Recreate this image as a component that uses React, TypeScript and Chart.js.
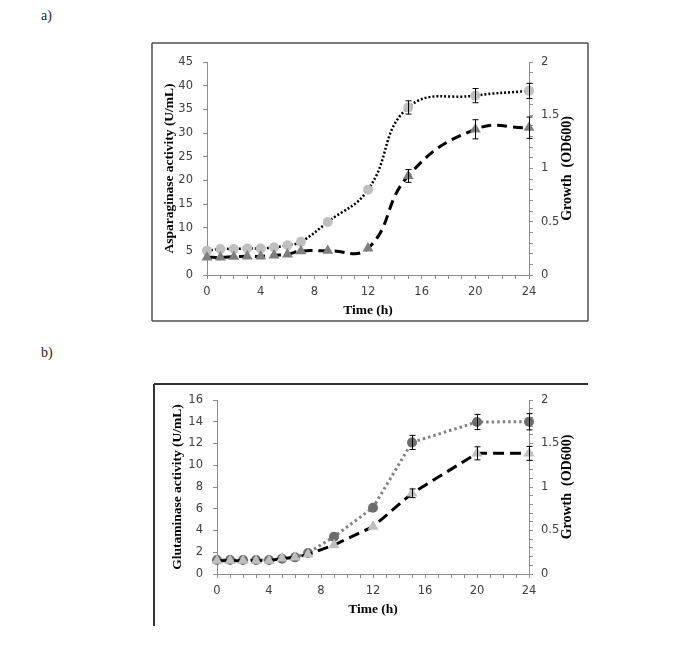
import React, { useEffect, useRef } from 'react';
import { Chart, registerables } from 'chart.js';

Chart.register(...registerables);

// ---------- data ----------
const hours = [0, 1, 2, 3, 4, 5, 6, 7, 9, 12, 15, 20, 24];

// panel a
const asparaginase = [5.1, 5.5, 5.5, 5.6, 5.6, 5.85, 6.3, 7.0, 11.2, 18.0, 35.4, 37.9, 38.9];
const asparaginaseErr = [0, 0, 0, 0, 0, 0, 0, 0, 0, 0, 1.4, 1.5, 1.6];
const growthA = [0.166, 0.166, 0.172, 0.175, 0.175, 0.185, 0.194, 0.225, 0.228, 0.25, 0.93, 1.368, 1.383];
const growthAErr = [0, 0, 0, 0, 0, 0, 0, 0, 0, 0, 0.06, 0.09, 0.1];

// panel b
const glutaminase = [1.29, 1.29, 1.29, 1.29, 1.29, 1.41, 1.53, 1.93, 3.43, 6.1, 12.1, 13.98, 14.0];
const glutaminaseErr = [0, 0, 0, 0, 0, 0, 0, 0, 0, 0, 0.65, 0.7, 0.75];
const growthB = [0.153, 0.153, 0.153, 0.153, 0.153, 0.18, 0.19, 0.226, 0.333, 0.544, 0.928, 1.387, 1.387];
const growthBErr = [0, 0, 0, 0, 0, 0, 0, 0, 0, 0, 0.05, 0.075, 0.08];

const xLabelEvery = 4;
const rightLabelEvery = 0.5;

// ---------- plugins ----------
const errorBarPlugin = {
  id: 'errorBars',
  afterDatasetsDraw(chart: any) {
    const ctx = chart.ctx;
    chart.data.datasets.forEach((ds: any, i: number) => {
      const errs = ds.errors;
      if (!errs) return;
      const meta = chart.getDatasetMeta(i);
      const ys = chart.scales[ds.yAxisID];
      ctx.save();
      ctx.strokeStyle = '#000';
      ctx.lineWidth = 1;
      meta.data.forEach((pt: any, j: number) => {
        const e = errs[j];
        if (!e) return;
        const v = ds.data[j].y;
        const t = ys.getPixelForValue(v + e);
        const b = ys.getPixelForValue(v - e);
        const x = Math.round(pt.x) + 0.5;
        ctx.beginPath();
        ctx.moveTo(x, t);
        ctx.lineTo(x, b);
        ctx.moveTo(x - 3, t);
        ctx.lineTo(x + 3, t);
        ctx.moveTo(x - 3, b);
        ctx.lineTo(x + 3, b);
        ctx.stroke();
      });
      ctx.restore();
    });
  },
};

function makeFrame(spec: { x: number; y: number; w: number; h: number; sides: string[]; color: string; width: number }) {
  return {
    id: 'frame',
    beforeDraw(chart: any) {
      const ctx = chart.ctx;
      const { x, y, w, h, sides, color, width } = spec;
      ctx.save();
      ctx.strokeStyle = color;
      ctx.lineWidth = width;
      ctx.beginPath();
      if (sides.includes('top')) { ctx.moveTo(x, y); ctx.lineTo(x + w, y); }
      if (sides.includes('right')) { ctx.moveTo(x + w, y); ctx.lineTo(x + w, y + h); }
      if (sides.includes('bottom')) { ctx.moveTo(x, y + h); ctx.lineTo(x + w, y + h); }
      if (sides.includes('left')) { ctx.moveTo(x, y); ctx.lineTo(x, y + h); }
      ctx.stroke();
      ctx.restore();
    },
  };
}

function makeRightTitle(text: string, offset: number) {
  return {
    id: 'rightTitle',
    afterDraw(chart: any) {
      const s = chart.scales.y1;
      const ctx = chart.ctx;
      ctx.save();
      ctx.translate(s.left + offset, (s.top + s.bottom) / 2);
      ctx.rotate(-Math.PI / 2);
      ctx.font = 'bold 14px "Liberation Serif"';
      ctx.fillStyle = '#000';
      ctx.textAlign = 'center';
      ctx.textBaseline = 'middle';
      ctx.fillText(text, 0, 0);
      ctx.restore();
    },
  };
}

// ---------- config ----------
const tickFont = { family: '"DejaVu Sans"', size: 11.5 };
const titleFont = { family: '"Liberation Serif"', size: 13.5, weight: 'bold' as const };
const axisGray = '#8c8c8c';

function buildConfig(p: any) {
  const pts = (vals: number[]) => hours.map((h, i) => ({ x: h, y: vals[i] }));
  return {
    type: 'line',
    data: {
      datasets: [
        {
          data: pts(p.growth),
          errors: p.growthErr,
          yAxisID: 'y1',
          borderColor: '#000',
          borderWidth: 3,
          borderDash: p.growthDash,
          tension: p.tension,
          pointStyle: 'triangle',
          pointRadius: p.triR,
          pointBackgroundColor: p.triColor,
          pointBorderColor: p.triColor,
          pointBorderWidth: 0,
          clip: false,
        },
        {
          data: pts(p.act),
          errors: p.actErr,
          yAxisID: 'y',
          borderColor: p.actLine,
          borderWidth: p.actLineWidth,
          borderDash: p.actDash,
          tension: p.tension,
          pointStyle: 'circle',
          pointRadius: p.circleR,
          pointBackgroundColor: p.circleColor,
          pointBorderColor: p.circleColor,
          pointBorderWidth: 0,
          clip: false,
        },
      ],
    },
    options: {
      animation: false,
      responsive: false,
      events: [],
      layout: { padding: { left: p.padLeft, top: 22, right: 0, bottom: p.padBottom } },
      plugins: { legend: { display: false }, tooltip: { enabled: false } },
      scales: {
        x: {
          type: 'linear',
          min: 0,
          max: 24,
          afterFit: (s: any) => { s.height = 44; },
          ticks: {
            stepSize: 1,
            autoSkip: false,
            maxRotation: 0,
            padding: 6,
            font: tickFont,
            color: '#404040',
            callback: (v: number) => (v % xLabelEvery === 0 ? String(v) : ''),
          },
          grid: { drawOnChartArea: false, drawTicks: true, tickLength: 4, color: axisGray },
          border: { display: true, color: axisGray, width: 1 },
          title: { display: true, text: 'Time (h)', font: titleFont, color: '#000', padding: 0 },
        },
        y: {
          type: 'linear',
          position: 'left',
          min: 0,
          max: p.leftMax,
          afterFit: (s: any) => { s.width = p.leftWidth; },
          ticks: { stepSize: p.leftStep, padding: 10, font: tickFont, color: '#404040' },
          grid: { drawOnChartArea: false, drawTicks: true, tickLength: 4, color: axisGray },
          border: { display: true, color: axisGray, width: 1 },
          title: { display: true, text: p.leftTitle, font: titleFont, color: '#000', padding: 0 },
        },
        y1: {
          type: 'linear',
          position: 'right',
          min: 0,
          max: 2,
          afterFit: (s: any) => { s.width = 71; },
          ticks: {
            stepSize: 0.1,
            autoSkip: false,
            padding: 8,
            font: tickFont,
            color: '#404040',
            callback: (v: number) => {
              const r = Math.round(v * 10) / 10;
              return Math.round(r * 10) % Math.round(rightLabelEvery * 10) === 0 ? String(r) : '';
            },
          },
          grid: { drawOnChartArea: false, drawTicks: true, tickLength: 4, color: axisGray },
          border: { display: true, color: axisGray, width: 1 },
        },
      },
    },
    plugins: [makeFrame(p.frame), errorBarPlugin, makeRightTitle('Growth  (OD600)', 38)],
  };
}

const configA = {
  act: asparaginase,
  actErr: asparaginaseErr,
  growth: growthA,
  growthErr: growthAErr,
  actLine: '#000',
  actLineWidth: 2.5,
  actDash: [2, 2],
  growthDash: [10, 6],
  tension: 0.45,
  circleR: 5,
  circleColor: '#bfbfbf',
  triR: 6.3,
  triColor: '#7f7f7f',
  padLeft: 21,
  leftWidth: 46,
  padBottom: 11,
  leftMax: 45,
  leftStep: 5,
  leftTitle: 'Asparaginase activity (U/mL)',
  frame: { x: 12, y: 3, w: 436, h: 278, sides: ['top', 'right', 'bottom', 'left'], color: '#505050', width: 1.5 },
};

const configB = {
  act: glutaminase,
  actErr: glutaminaseErr,
  growth: growthB,
  growthErr: growthBErr,
  actLine: '#808080',
  actLineWidth: 3,
  actDash: [2.5, 3],
  growthDash: [11, 6],
  tension: 0,
  circleR: 5,
  circleColor: '#6d6d6d',
  triR: 6.3,
  triColor: '#bfbfbf',
  padLeft: 29,
  leftWidth: 48,
  padBottom: 12,
  leftMax: 16,
  leftStep: 2,
  leftTitle: 'Glutaminase activity (U/mL)',
  frame: { x: 14, y: 6, w: 434, h: 242, sides: ['top', 'left'], color: '#333', width: 2 },
};

function ChartBox({ cfg, left, top, width, height }: any) {
  const ref = useRef<HTMLCanvasElement>(null);
  useEffect(() => {
    const chart = new Chart(ref.current as HTMLCanvasElement, buildConfig(cfg) as any);
    return () => chart.destroy();
  }, []);
  return (
    <canvas
      ref={ref}
      width={width}
      height={height}
      style={{ position: 'absolute', left, top, width, height }}
    />
  );
}

const labelStyle: React.CSSProperties = {
  position: 'absolute',
  fontFamily: '"Liberation Serif", serif',
  fontSize: 14,
  lineHeight: '16px',
  color: '#222',
};

export default function App() {
  return (
    <div style={{ position: 'absolute', left: 0, top: 0, width: 686, height: 652, background: '#fff' }}>
      <div style={{ ...labelStyle, left: 41, top: 8 }}>a)</div>
      <ChartBox cfg={configA} left={140} top={40} width={460} height={290} />
      <div style={{ ...labelStyle, left: 41, top: 345 }}>b)</div>
      <ChartBox cfg={configB} left={140} top={378} width={460} height={252} />
    </div>
  );
}
